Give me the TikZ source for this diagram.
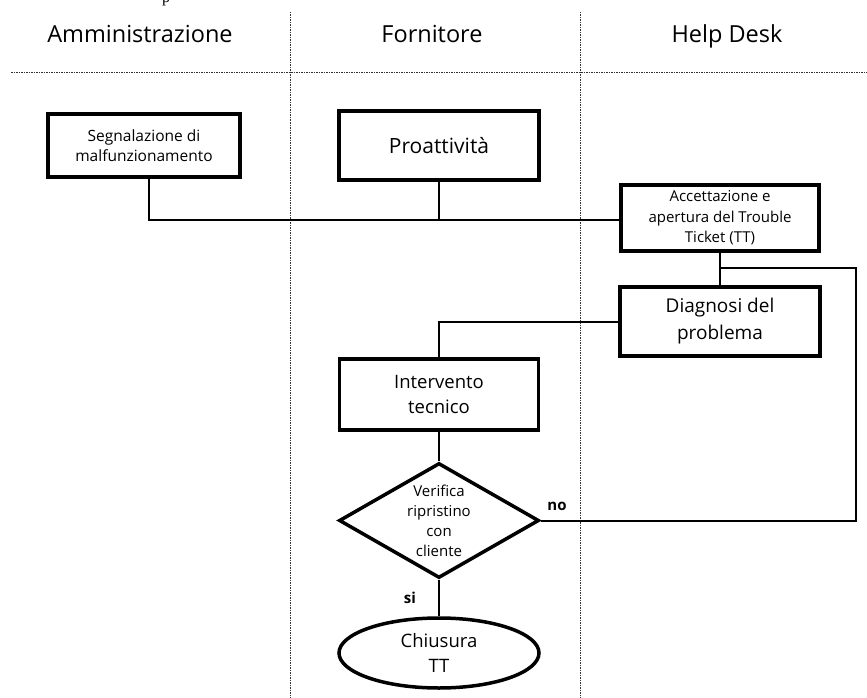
\documentclass[tikz,border=0pt]{standalone}
\usepackage{fontspec}
\setmainfont{Open Sans}
\newfontfamily\serifp{Liberation Serif}
\usetikzlibrary{shapes.geometric}
\begin{document}
\begin{tikzpicture}[x=1pt,y=-1pt,
  lane/.style={line width=1pt, black!80, dash pattern=on 1.5pt off 1pt},
  box/.style={draw, line width=3.5pt, align=center, inner sep=0pt},
  conn/.style={line width=2pt},
  hdr/.style={font=\fontsize{23.5}{28}\selectfont, anchor=base},
  lbl/.style={font=\fontsize{15}{18}\selectfont\bfseries, anchor=base}]
\useasboundingbox (0,0) rectangle (867,698);
\fill[white] (0,0) rectangle (867,698);

% stray cut-off text at top
\node[font=\serifp\fontsize{16}{18}\selectfont, anchor=base, inner sep=0pt] (ptxt) at (166,3) {p};

% lanes
\draw[lane] (11,73) -- (867,73);
\draw[lane] (290,12) -- (290,698);
\draw[lane] (580,12) -- (580,698);

% headers
\node[hdr] (h1) at (140,43) {Amministrazione};
\node[hdr] (h2) at (432,43) {Fornitore};
\node[hdr] (h3) at (727,43) {Help Desk};

% boxes
\node[box, minimum width=192pt, minimum height=63pt, font=\fontsize{15.5}{20.5}\selectfont] (seg) at (144,145.5) {Segnalazione di\\malfunzionamento};
\node[box, minimum width=200pt, minimum height=69pt, font=\fontsize{21}{25}\selectfont] (pro) at (439,145.5) {Proattività};
\node[box, minimum width=198pt, minimum height=66pt, font=\fontsize{15}{20.5}\selectfont] (acc) at (720,218) {Accettazione e\\apertura del Trouble\\Ticket (TT)};
\node[box, minimum width=200pt, minimum height=69pt, font=\fontsize{19}{27}\selectfont] (diag) at (720,321.5) {Diagnosi del\\problema};
\node[box, minimum width=199pt, minimum height=71pt, font=\fontsize{18.5}{25}\selectfont] (int) at (439,394.5) {Intervento\\tecnico};
\node[draw, diamond, line width=3.5pt, inner sep=0pt, minimum width=200pt, minimum height=115pt] (dia) at (439,520.5) {};
\node[align=center, inner sep=0pt, font=\fontsize{15}{20}\selectfont] (diat) at (439,521) {Verifica\\ripristino\\con\\cliente};
\node[draw, ellipse, line width=3.5pt, inner sep=0pt, minimum width=200pt, minimum height=70pt, align=center, font=\fontsize{18.5}{25}\selectfont] (chi) at (439,653) {Chiusura\\TT};

% connectors
\coordinate (br) at (720,268);
\coordinate (rt) at (856,268);
\draw[conn] ([xshift=5pt]seg.south) |- ([yshift=-2pt]acc.west);
\draw[conn] (pro.south) -- (pro.south |- 0,219);
\draw[conn] (acc.south) -- (diag.north);
\draw[conn] (br) -- (rt) |- (dia.east);
\draw[conn] (diag.west) -| (int.north);
\draw[conn] (int.south) -- (dia.north);
\draw[conn] (dia.south) -- (chi.north);

% labels
\node[lbl] (no) at (557,510) {no};
\node[lbl] (si) at (410,603) {si};
\end{tikzpicture}
\end{document}
